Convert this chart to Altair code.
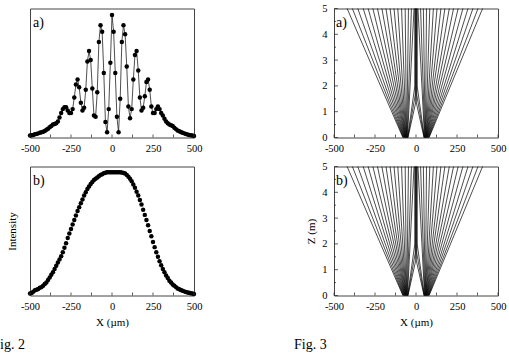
import altair as alt
import pandas as pd

FONT = "Liberation Serif, Times New Roman, serif"
W, H = 164, 129

# ---------------- Fig. 2 data ----------------
x2 = list(range(-500, 501, 10))
i2a = [0.015, 0.018, 0.02, 0.025, 0.028, 0.032, 0.036, 0.04, 0.045, 0.05,
       0.06, 0.068, 0.08, 0.09, 0.10, 0.105, 0.11, 0.125, 0.155, 0.19,
       0.22, 0.235, 0.235, 0.21, 0.19, 0.19, 0.22, 0.31, 0.41, 0.45,
       0.39, 0.27, 0.21, 0.23, 0.37, 0.59, 0.67, 0.60, 0.38, 0.17,
       0.16, 0.35, 0.74, 0.87, 0.82, 0.50, 0.12, 0.04, 0.22, 0.58,
       0.95, 0.82, 0.50, 0.16, 0.04, 0.30, 0.74, 0.87, 0.80, 0.55,
       0.24, 0.15, 0.22, 0.45, 0.64, 0.67, 0.52, 0.31, 0.21, 0.23,
       0.32, 0.43, 0.45, 0.37, 0.24, 0.19, 0.19, 0.22, 0.24, 0.22,
       0.19, 0.17, 0.145, 0.125, 0.11, 0.10, 0.095, 0.09, 0.075, 0.065,
       0.055, 0.048, 0.042, 0.036, 0.032, 0.028, 0.024, 0.02, 0.018, 0.015,
       0.012]
i2b = [0.015, 0.02, 0.03, 0.04, 0.045, 0.05, 0.06, 0.065, 0.075, 0.09,
       0.10, 0.12, 0.14, 0.16, 0.18, 0.205, 0.23, 0.255, 0.28, 0.305,
       0.335, 0.37, 0.405, 0.445, 0.48, 0.515, 0.55, 0.585, 0.62, 0.655,
       0.685, 0.715, 0.745, 0.775, 0.80, 0.825, 0.845, 0.865, 0.88, 0.895,
       0.905, 0.915, 0.925, 0.935, 0.94, 0.948, 0.952, 0.955, 0.955, 0.955,
       0.955, 0.955, 0.955, 0.955, 0.955, 0.955, 0.953, 0.95, 0.945, 0.935,
       0.92, 0.905, 0.885, 0.86, 0.835, 0.805, 0.775, 0.74, 0.705, 0.665,
       0.625, 0.585, 0.545, 0.50, 0.46, 0.415, 0.375, 0.335, 0.30, 0.265,
       0.235, 0.205, 0.18, 0.155, 0.135, 0.115, 0.10, 0.085, 0.075, 0.065,
       0.055, 0.048, 0.042, 0.037, 0.032, 0.028, 0.024, 0.021, 0.018, 0.015,
       0.012]

# ---------------- Fig. 3 data (rays: x at z=0 and at z=5) ----------------
left_top = [-420, -388, -355, -322, -292, -263, -235, -208, -183, -158, -134, -111, -88, -66, -46, -28, -12]
left_bot = [-80, -78, -76, -74, -72, -70, -68, -66.5, -65, -63.5, -62, -60.5, -59, -57.5, -56, -54, -52]
right_top = [12, 28, 45, 64, 84, 106, 128, 152, 176, 203, 229, 257, 286, 317, 347, 378, 406]
right_bot = [52, 54, 56, 57.5, 59, 60.5, 62, 63.5, 65, 66.5, 68, 70, 72, 74, 76, 78, 80]
# central rays that bend to vertical
band_bot = [-51, -50, -49, 49, 50, 51]
band_x = [-7, -4.5, -2, 2, 4.5, 7]
band_z = [2.0, 1.65, 1.35, 1.35, 1.65, 2.0]

xticks = [-500, -375, -250, -125, 0, 125, 250, 375, 500]
zmajor = [0, 1, 2, 3, 4, 5]
zminor = [0.5, 1.5, 2.5, 3.5, 4.5]

df2a = pd.DataFrame({"x": x2, "v": i2a})
df2b = pd.DataFrame({"x": x2, "v": i2b})

rows = []
for i, (b, t) in enumerate(zip(left_bot + right_bot, left_top + right_top)):
    rows.append({"ray": f"r{i}", "k": 0, "x": b, "z": 0})
    rows.append({"ray": f"r{i}", "k": 1, "x": t, "z": 5})
for i, (b, xb, zb) in enumerate(zip(band_bot, band_x, band_z)):
    rows.append({"ray": f"b{i}", "k": 0, "x": b, "z": 0})
    rows.append({"ray": f"b{i}", "k": 1, "x": xb, "z": zb})
    rows.append({"ray": f"b{i}", "k": 2, "x": xb, "z": 5})
rays = pd.DataFrame(rows)

xs = alt.Scale(domain=[-500, 500], nice=False, zero=False)
ys = alt.Scale(domain=[0, 1], nice=False)
zs = alt.Scale(domain=[0, 5], nice=False)


def x_axis(title):
    return alt.Axis(values=xticks,
                    labelExpr="datum.value % 250 == 0 ? '' + datum.value : ''",
                    ticks=False, domain=False, grid=False, labelFontSize=10.5,
                    labelPadding=6, labelOverlap=False, labelFlush=False,
                    title=title, titleFontSize=11, titlePadding=4)


def y_axis(title):
    return alt.Axis(labels=False, ticks=False, domain=False, grid=False,
                    title=title, titleFontSize=11, titlePadding=13)


def z_axis(title):
    return alt.Axis(values=zmajor, format="d", ticks=False, domain=False, grid=False,
                    labelFontSize=10.5, labelPadding=7,
                    title=title, titleFontSize=11, titlePadding=5)


def xtick_layer(xtitle):
    return alt.Chart(pd.DataFrame({"t": xticks})).mark_rule(color="#333", strokeWidth=0.8).encode(
        x=alt.X("t:Q", scale=xs, axis=x_axis(xtitle)), y=alt.value(H), y2=alt.value(H - 3))


def label(s, x, y):
    return alt.Chart(pd.DataFrame({"s": [s]})).mark_text(
        font=FONT, fontSize=14, align="left", baseline="alphabetic", color="black").encode(
        text="s:N", x=alt.value(x), y=alt.value(y))


def caption(s, x, align):
    return alt.Chart(pd.DataFrame({"s": [s]})).mark_text(
        font=FONT, fontSize=14, align=align, baseline="alphabetic", color="black").encode(
        text="s:N", x=alt.value(x), y=alt.value(H + 53))


def fig2(df, lab, with_line, ytitle, xtitle, extra=None):
    base = alt.Chart(df)
    enc = dict(x=alt.X("x:Q", scale=xs, axis=x_axis(xtitle)),
               y=alt.Y("v:Q", scale=ys, axis=y_axis(ytitle)))
    layers = []
    if with_line:
        layers.append(base.mark_line(color="#222", strokeWidth=0.8).encode(**enc))
    layers.append(base.mark_circle(size=20, color="black", opacity=1).encode(**enc))
    layers += [xtick_layer(xtitle), label(lab, 3, 18)]
    if extra is not None:
        layers.append(extra)
    return alt.layer(*layers).properties(width=W, height=H)


def fig3(lab, ztitle, xtitle, extra=None):
    lines = alt.Chart(rays).mark_line(color="black", strokeWidth=0.7).encode(
        x=alt.X("x:Q", scale=xs, axis=x_axis(xtitle)),
        y=alt.Y("z:Q", scale=zs, axis=z_axis(ztitle)),
        detail="ray:N", order="k:O")
    zt1 = alt.Chart(pd.DataFrame({"t": zmajor})).mark_rule(color="#333", strokeWidth=0.8).encode(
        y=alt.Y("t:Q", scale=zs, axis=z_axis(ztitle)), x=alt.value(0), x2=alt.value(4))
    zt2 = alt.Chart(pd.DataFrame({"t": zminor})).mark_rule(color="#333", strokeWidth=0.8).encode(
        y=alt.Y("t:Q", scale=zs, axis=z_axis(ztitle)), x=alt.value(0), x2=alt.value(2))
    layers = [lines, xtick_layer(xtitle), zt1, zt2, label(lab, 2, 18)]
    if extra is not None:
        layers.append(extra)
    return alt.layer(*layers).properties(width=W, height=H)


f2a = fig2(df2a, "a)", True, None, None)
f2b = fig2(df2b, "b)", False, "Intensity", "X (µm)", caption("Fig. 2", -5, "right"))
f3a = fig3("a)", None, None)
f3b = fig3("b)", "Z (m)", "X (µm)", caption("Fig. 3", -40, "left"))

chart = alt.concat(f2a, f3a, f2b, f3b, columns=2,
                   spacing={"row": 29, "column": 140}, bounds="flush").properties(
    padding={"left": -9, "top": 2.5, "right": 0, "bottom": 0},
    background="white",
).configure_view(
    stroke="#444", strokeWidth=1
).configure_axis(
    labelFont=FONT, titleFont=FONT, labelColor="black", titleColor="black",
    titleFontWeight="normal"
)

chart.save("out.html", embed_options={"renderer": "svg", "actions": False})
